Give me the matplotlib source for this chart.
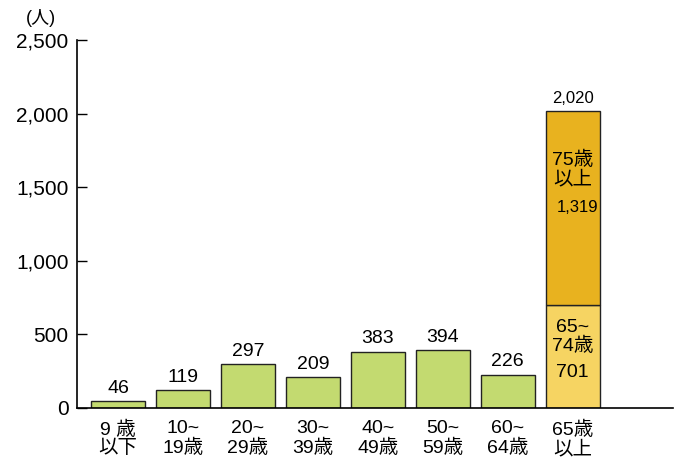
import matplotlib
matplotlib.use("Agg")
import matplotlib.pyplot as plt

plt.rcParams['font.family'] = ['Liberation Sans', 'Noto Sans CJK JP', 'DejaVu Sans']

# data
categories = ["9 歳\n以下", "10~\n19歳", "20~\n29歳", "30~\n39歳", "40~\n49歳",
              "50~\n59歳", "60~\n64歳", "65歳\n以上"]
values = [46, 119, 297, 209, 383, 394, 226]
old_young = 701     # 65~74歳
old_old = 1319      # 75歳以上
yticks = [0, 500, 1000, 1500, 2000, 2500]

green = "#c3da70"
light = "#f6d462"
dark = "#e8b21f"

fig = plt.figure(figsize=(6.84, 4.62), dpi=100)
ax = fig.add_axes([0.1126, 0.1169, 0.871, 0.7965])

x = list(range(len(values)))
w = 0.83
ax.bar(x, values, width=w, color=green, edgecolor="#222222", linewidth=1)
for i, v in zip(x, values):
    ax.text(i, v + 30, str(v), ha="center", va="bottom", fontsize=14)

k = len(values)
ax.bar(k, old_young, width=w, color=light, edgecolor="#222222", linewidth=1)
ax.bar(k, old_old, bottom=old_young, width=w, color=dark, edgecolor="#222222", linewidth=1)
total = old_young + old_old
ax.text(k, total + 30, f"{total:,}", ha="center", va="bottom", fontsize=12)
ax.text(k, 1617, "75歳\n以上", ha="center", va="center", fontsize=14, linespacing=1.1)
ax.text(k + 0.07, 1365, f"{old_old:,}", ha="center", va="center", fontsize=12)
ax.text(k, 482, "65~\n74歳", ha="center", va="center", fontsize=14, linespacing=1.1)
ax.text(k, 238, str(old_young), ha="center", va="center", fontsize=14)

ax.set_xlim(-0.63, 8.54)
ax.set_ylim(0, 2500)
ax.set_yticks(yticks)
ax.set_yticklabels([f"{t:,}" for t in yticks], fontsize=15)
ax.tick_params(axis="y", direction="in", length=7, width=1, pad=6)
ax.set_xticks(range(len(categories)))
ax.set_xticklabels(categories, fontsize=14, linespacing=1.1)
ax.tick_params(axis="x", length=0, pad=9)
ax.spines["top"].set_visible(False)
ax.spines["right"].set_visible(False)
ax.spines["left"].set_linewidth(1.2)
ax.spines["bottom"].set_linewidth(1.2)

fig.text(0.06, 0.962, "(人)", ha="center", va="center", fontsize=13)

fig.savefig("out.png", dpi=100)
